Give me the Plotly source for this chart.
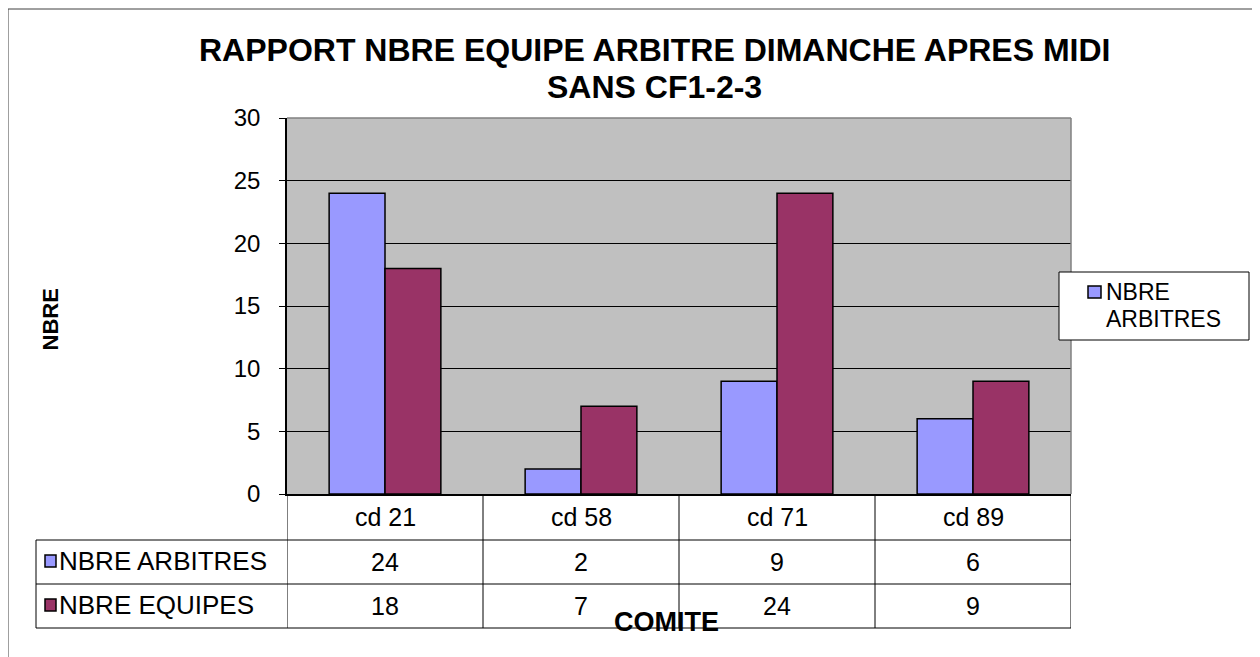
import plotly.graph_objects as go

# ---- data ----
categories = ["cd 21", "cd 58", "cd 71", "cd 89"]
nbre_arbitres = [24, 2, 9, 6]
nbre_equipes = [18, 7, 24, 9]
series_names = ["NBRE ARBITRES", "NBRE EQUIPES"]
title_lines = ["RAPPORT NBRE EQUIPE ARBITRE DIMANCHE APRES MIDI", "SANS CF1-2-3"]
legend_lines = ["NBRE", "ARBITRES"]
y_title = "NBRE"
x_title = "COMITE"
y_tick_values = [0, 5, 10, 15, 20, 25, 30]

# ---- style ----
# the page has an 8px body margin, so the figure is 8px smaller and
# everything below is given in screen pixels
OFF = 8
W, H = 1260 - OFF, 657 - OFF
L, R, T, B = 287, 1071, 118, 494   # plot area in screen pixels
FONT = "Arial, Liberation Sans, sans-serif"
C_ARB = "#9999FF"
C_EQU = "#993366"
GRAY_BG = "#C0C0C0"


def px(x):
    return (x - L) / (R - L)


def py(y):
    return (B - y) / (B - T)


fig = go.Figure()
fig.add_trace(go.Bar(
    x=categories, y=nbre_arbitres, name=series_names[0],
    marker=dict(color=C_ARB, line=dict(color="black", width=1.5)),
    showlegend=False,
))
fig.add_trace(go.Bar(
    x=categories, y=nbre_equipes, name=series_names[1],
    marker=dict(color=C_EQU, line=dict(color="black", width=1.5)),
    showlegend=False,
))

shapes = []
ann = []


def line(x0, y0, x1, y1, color="black", width=1, xref="paper"):
    shapes.append(dict(type="line", xref=xref, yref="paper", x0=x0, y0=y0, x1=x1, y1=y1,
                       line=dict(color=color, width=width), layer="above"))


def rect(x0, y0, x1, y1, fill, color="black", width=1):
    shapes.append(dict(type="rect", xref="paper", yref="paper", x0=px(x0), y0=py(y0),
                       x1=px(x1), y1=py(y1), fillcolor=fill,
                       line=dict(color=color, width=width), layer="above"))


# chart outer border
rect(8, 9, 1253, 700, "rgba(0,0,0,0)", color="#404040", width=1)

# plot area top / right border (gray)
line(0, 1, 1, 1, color="#808080", width=1.5)
line(1, 0, 1, 1, color="#808080", width=1.5)

# data table grid
for yy in (540, 584, 628):
    line(px(36), py(yy), px(R), py(yy))
line(px(36), py(540), px(36), py(628))
for i in range(len(categories) + 1):
    line(i - 0.5, py(B), i - 0.5, py(628), xref="x")

# table row label squares and texts
row_y = [561, 605]
row_vals = [nbre_arbitres, nbre_equipes]
row_cols = [C_ARB, C_EQU]
for k in range(2):
    cy = row_y[k]
    rect(45, cy - 6, 56, cy + 6, row_cols[k], width=1.5)
    ann.append(dict(xref="paper", yref="paper", x=px(57), y=py(cy), xanchor="left", yanchor="middle",
                    text=series_names[k], showarrow=False, font=dict(family=FONT, size=26, color="black")))
    for c, v in zip(categories, row_vals[k]):
        ann.append(dict(xref="x", yref="paper", x=c, y=py(cy + 1), xanchor="center", yanchor="middle",
                        text=str(v), showarrow=False, font=dict(family=FONT, size=25, color="black")))
for c in categories:
    ann.append(dict(xref="x", yref="paper", x=c, y=py(517), xanchor="center", yanchor="middle",
                    text=c, showarrow=False, font=dict(family=FONT, size=25, color="black")))

# legend box (only the first series, as in the original)
rect(1059, 272, 1249, 340, "white", width=1)
rect(1088, 286, 1101, 298, C_ARB, width=1.5)
ann.append(dict(xref="paper", yref="paper", x=px(1104), y=py(292), xanchor="left", yanchor="middle",
                text=legend_lines[0], showarrow=False, font=dict(family=FONT, size=23, color="black")))
ann.append(dict(xref="paper", yref="paper", x=px(1104), y=py(319), xanchor="left", yanchor="middle",
                text=legend_lines[1], showarrow=False, font=dict(family=FONT, size=23, color="black")))

# titles
ann.append(dict(xref="paper", yref="paper", x=px(654.5), y=py(50), xanchor="center", yanchor="middle",
                text="<b>%s</b>" % title_lines[0], showarrow=False,
                font=dict(family=FONT, size=32, color="black")))
ann.append(dict(xref="paper", yref="paper", x=px(654.5), y=py(87), xanchor="center", yanchor="middle",
                text="<b>%s</b>" % title_lines[1], showarrow=False,
                font=dict(family=FONT, size=32, color="black")))
ann.append(dict(xref="paper", yref="paper", x=px(666), y=py(622), xanchor="center", yanchor="middle",
                text="<b>%s</b>" % x_title, showarrow=False,
                font=dict(family=FONT, size=27, color="black")))
ann.append(dict(xref="paper", yref="paper", x=px(49.5), y=py(320), xanchor="center", yanchor="middle",
                text="<b>%s</b>" % y_title, showarrow=False, textangle=-90,
                font=dict(family=FONT, size=22, color="black")))

fig.update_layout(
    width=W, height=H, autosize=False,
    margin=dict(l=L - OFF, r=W - (R - OFF), t=T - OFF, b=H - (B - OFF), pad=0),
    paper_bgcolor="white", plot_bgcolor=GRAY_BG,
    barmode="group", bargap=0.43, bargroupgap=0,
    font=dict(family=FONT, color="black"),
    shapes=shapes, annotations=ann,
    showlegend=False,
    xaxis=dict(type="category", range=[-0.5, len(categories) - 0.5], showticklabels=False,
               showgrid=False, zeroline=False, showline=True, linecolor="black", linewidth=1.5,
               ticks="", fixedrange=True),
    yaxis=dict(range=[0, 30], tickvals=y_tick_values, showgrid=True, gridcolor="black", gridwidth=1,
               zeroline=False, showline=True, linecolor="black", linewidth=1.5,
               ticks="outside", ticklen=6, tickcolor="black", tickwidth=1,
               ticklabelstandoff=14,
               tickfont=dict(family=FONT, size=24, color="black"), fixedrange=True),
)

fig.write_html("out.html")
